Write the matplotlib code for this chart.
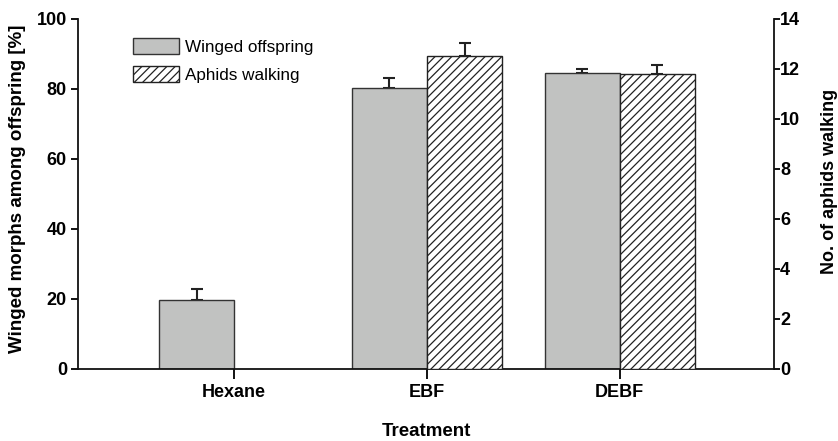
import numpy as np
import matplotlib
matplotlib.use("Agg")
import matplotlib.pyplot as plt

plt.rcParams['font.family'] = ['Liberation Sans', 'DejaVu Sans']
plt.rcParams['hatch.linewidth'] = 0.9
plt.rcParams['hatch.color'] = "#222222"

categories = ["Hexane", "EBF", "DEBF"]
winged = [19.7, 80.3, 84.6]
winged_err = [3.1, 2.8, 1.0]
walking = [0.0, 12.5, 11.8]
walking_err = [0.0, 0.55, 0.35]

fig = plt.figure(figsize=(8.38, 4.41), dpi=100)
ax = fig.add_axes([0.0931, 0.1633, 0.8305, 0.7937])
ax2 = ax.twinx()

x = np.arange(len(categories))
w = 0.39
grey = "#c1c2c1"

b1 = ax.bar(x - w / 2, winged, w, color=grey, edgecolor="#333333", linewidth=1.0, zorder=2,
            label="Winged offspring")
ax.errorbar(x - w / 2, winged, yerr=[np.zeros(3), winged_err], fmt="none", ecolor="#222222",
            elinewidth=1.5, capsize=4, capthick=1.5, zorder=1)

vals = np.array(walking)
errs = np.array(walking_err)
mask = vals > 0
b2 = ax2.bar((x + w / 2)[mask], vals[mask], w, facecolor="white", edgecolor="#222222",
             hatch="////", linewidth=1.0, zorder=2, label="Aphids walking")
ax2.errorbar((x + w / 2)[mask], vals[mask], yerr=[np.zeros(mask.sum()), errs[mask]], fmt="none",
             ecolor="#222222", elinewidth=1.5, capsize=4, capthick=1.5, zorder=1)

ax.set_xlim(-0.81, 2.80)
ax.set_ylim(0, 100)
ax2.set_ylim(0, 14)
ax.set_yticks([0, 20, 40, 60, 80, 100])
ax2.set_yticks(range(0, 15, 2))
ax.set_xticks(x)
ax.set_xticklabels(categories)

for a in (ax, ax2):
    a.spines['top'].set_visible(False)
    for s in a.spines.values():
        s.set_linewidth(1.3)
        s.set_color("#111111")
ax.spines['right'].set_visible(False)
ax2.spines['left'].set_visible(False)
ax2.spines['bottom'].set_visible(False)

ax.tick_params(axis='y', direction='out', length=5, width=1.3, labelsize=13, pad=3)
ax.tick_params(axis='x', direction='out', length=7, width=1.3, labelsize=13, pad=4)
ax2.tick_params(axis='y', direction='out', length=4, width=1.3, labelsize=13, pad=0.5)
for lab in ax.get_yticklabels() + ax.get_xticklabels() + ax2.get_yticklabels():
    lab.set_fontweight('bold')

ax.set_ylabel("Winged morphs among offspring [%]", fontsize=13.5, fontweight='bold',
              rotation=90, va='center', ha='center')
ax.yaxis.set_label_coords(-0.087, 0.515)
ax2.set_ylabel("No. of aphids walking", fontsize=13, fontweight='bold', rotation=90,
               va='center', ha='center')
ax2.yaxis.set_label_coords(1.080, 0.537)
ax.set_xlabel("Treatment", fontsize=13.5, fontweight='bold', labelpad=16)

ax.legend([b1, b2], ["Winged offspring", "Aphids walking"], loc='upper left',
          bbox_to_anchor=(0.069, 0.965), frameon=False, fontsize=12.3,
          handlelength=2.7, handleheight=1.1, handletextpad=0.35, labelspacing=0.62,
          borderaxespad=0)

fig.savefig("out.png", dpi=100)
